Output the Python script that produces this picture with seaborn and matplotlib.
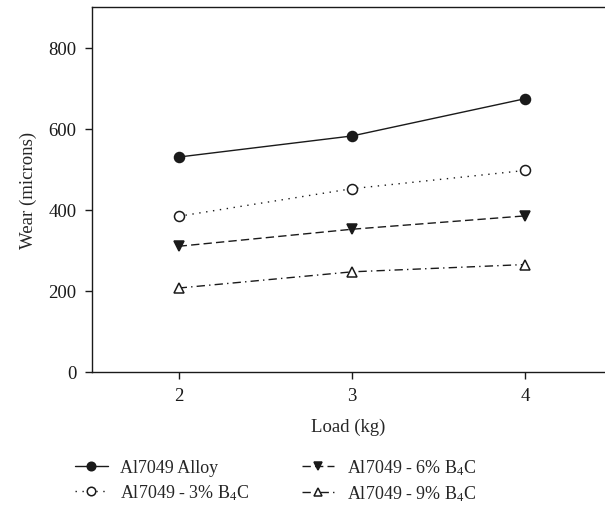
import matplotlib
matplotlib.use("Agg")
import matplotlib.pyplot as plt
import seaborn as sns
import pandas as pd

loads = [2, 3, 4]
alloy = [530, 582, 674]
b4c_3 = [384, 452, 497]
b4c_6 = [310, 352, 385]
b4c_9 = [207, 247, 265]
labels = ["Al7049 Alloy", "Al7049 - 3% B$_4$C", "Al7049 - 6% B$_4$C", "Al7049 - 9% B$_4$C"]
yticks = [0, 200, 400, 600, 800]
xticks = [2, 3, 4]

sns.set_style("ticks")
plt.rcParams["font.family"] = ["Liberation Serif", "DejaVu Serif"]
plt.rcParams["mathtext.fontset"] = "custom"
plt.rcParams["mathtext.rm"] = "Liberation Serif"
plt.rcParams["mathtext.it"] = "Liberation Serif:italic"
plt.rcParams["font.size"] = 13

fig = plt.figure(figsize=(6.05, 5.1), dpi=100)
ax = fig.add_axes([92/605, 1-373/510, 1-92/605, 365/510])

styles = [
    dict(linestyle="-", marker="o", markerfacecolor="#1a1a1a", markeredgecolor="#1a1a1a"),
    dict(linestyle=(0, (1, 4)), marker="o", markerfacecolor="white", markeredgecolor="#1a1a1a"),
    dict(linestyle=(0, (6, 3)), marker="v", markerfacecolor="#1a1a1a", markeredgecolor="#1a1a1a"),
    dict(linestyle=(0, (6, 3, 1, 3)), marker="^", markerfacecolor="white", markeredgecolor="#1a1a1a"),
]
series = [alloy, b4c_3, b4c_6, b4c_9]
for vals, lab, st in zip(series, labels, styles):
    df = pd.DataFrame({"Load": loads, "Wear": vals})
    sns.lineplot(data=df, x="Load", y="Wear", ax=ax, color="#1a1a1a", linewidth=1.0,
                 markersize=7.2, markeredgewidth=1.1, label=lab, **st)

ax.set_xlim(1.5, 4.46)
ax.set_ylim(0, 900)
ax.set_xticks(xticks)
ax.set_yticks(yticks)
ax.spines["right"].set_visible(False)
for s in ["left", "bottom", "top"]:
    ax.spines[s].set_linewidth(1.0)
    ax.spines[s].set_color("#1a1a1a")
ax.tick_params(direction="out", length=5, width=1.0, colors="#1a1a1a", labelsize=13.5, pad=6)
ax.set_xlabel("Load (kg)", fontsize=13.5, labelpad=10)
ax.set_ylabel("Wear (microns)", fontsize=13.5, labelpad=8)

h, l = ax.get_legend_handles_labels()
ax.get_legend().remove()
fig.legend(h, l, ncol=2, frameon=False, loc="upper left", bbox_to_anchor=(75/605, 1-458/510),
           fontsize=13, handlelength=1.8, handletextpad=0.7, columnspacing=2.9,
           labelspacing=0.35, borderpad=0, borderaxespad=0, markerscale=0.85)

fig.savefig("out.png", dpi=100)
